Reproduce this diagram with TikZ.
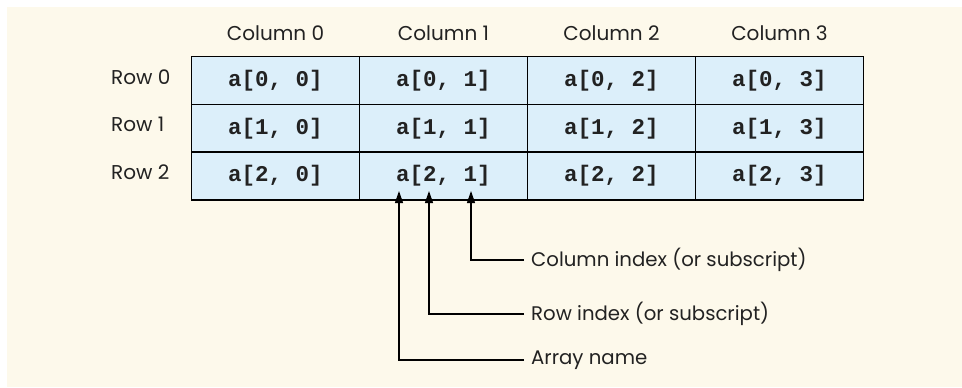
\documentclass[tikz,border=0pt]{standalone}
\usepackage{fontspec}
\setmainfont{Poppins}
\newfontfamily\cellfont{Liberation Mono}
\usetikzlibrary{arrows.meta}
\definecolor{panel}{HTML}{FDF9EB}
\definecolor{cellblue}{HTML}{DCEFFA}
\definecolor{ink}{HTML}{222222}
\begin{document}
\begin{tikzpicture}[x=1pt,y=-1pt,
  cellbox/.style={draw=black,line width=1.2pt,fill=cellblue,minimum width=168pt,minimum height=48pt,inner sep=0pt,
    font=\cellfont\bfseries\fontsize{22.5}{22.5}\selectfont,text=ink},
  headlbl/.style={font=\fontsize{20}{20}\selectfont,text=ink,inner sep=0pt},
  calllbl/.style={font=\fontsize{19.7}{20}\selectfont,text=ink,anchor=west,inner xsep=7pt,inner ysep=0pt},
  pointer/.style={line width=1.2pt,-{Triangle[length=12pt,width=8pt]}}]
\useasboundingbox (0,0) rectangle (962,388);
\fill[white] (0,0) rectangle (962,388);
\fill[panel] (7,7) rectangle (962,387);
% cells
\foreach \r in {0,1,2}{
  \foreach \c in {0,1,2,3}{
    \node[cellbox] (c\r\c) at ({275.5+168*\c},{80.5+47.7*\r}) {a[\r, \c]};
  }
}
% column headers
\foreach \c in {0,1,2,3}{
  \node[headlbl] (h\c) at ({275.5+168*\c},33) {Column \c};
}
% row labels
\foreach \r in {0,1,2}{
  \node[headlbl,anchor=west] (r\r) at (111,{77+47.5*\r}) {Row \r};
}
% callouts
\coordinate (tA) at (399,191);
\coordinate (tR) at (429,191);
\coordinate (tC) at (471,191);
\node[calllbl] (lC) at (524,260) {Column index (or subscript)};
\node[calllbl] (lR) at (524,314) {Row index (or subscript)};
\node[calllbl] (lA) at (524,360) {Array name};
\draw[pointer] (lC.west) -| (tC);
\draw[pointer] (lR.west) -| (tR);
\draw[pointer] (lA.west) -| (tA);
\end{tikzpicture}
\end{document}
